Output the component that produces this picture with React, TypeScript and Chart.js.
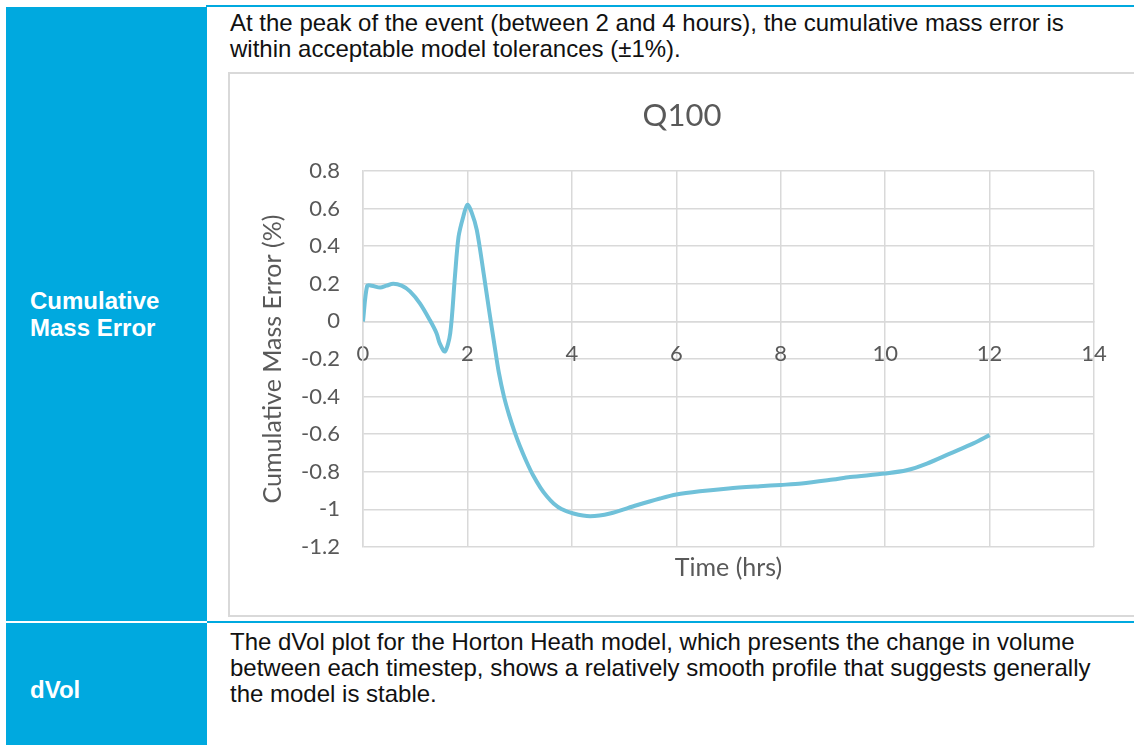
import React, { useEffect, useRef } from 'react';
import { Chart, registerables } from 'chart.js';

Chart.register(...registerables);

const chartTitle = 'Q100';
const xAxisTitle = 'Time (hrs)';
const yAxisTitle = 'Cumulative Mass Error (%)';

const timeHrs = [0, 0.08, 0.17, 0.33, 0.45, 0.58, 0.74, 0.9, 1.09, 1.28, 1.41, 1.47, 1.57, 1.67, 1.76, 1.83, 1.92, 2.0, 2.08, 2.18, 2.31, 2.42, 2.52, 2.6, 2.7, 2.8, 2.9, 3.0, 3.13, 3.26, 3.4, 3.52, 3.65, 3.8, 4.03, 4.35, 4.73, 5.24, 5.69, 6.0, 6.45, 7.0, 7.6, 8.0, 8.4, 9.0, 9.33, 10.0, 10.41, 10.8, 11.24, 11.69, 12.0];
const massErrorPct = [0, 0.19, 0.19, 0.18, 0.19, 0.2, 0.19, 0.16, 0.096, 0.007, -0.064, -0.117, -0.16, -0.064, 0.237, 0.45, 0.557, 0.62, 0.58, 0.486, 0.256, 0.05, -0.13, -0.27, -0.4, -0.5, -0.585, -0.66, -0.745, -0.82, -0.885, -0.93, -0.968, -0.998, -1.022, -1.036, -1.022, -0.978, -0.942, -0.921, -0.904, -0.889, -0.877, -0.87, -0.862, -0.841, -0.828, -0.809, -0.792, -0.756, -0.703, -0.649, -0.605];

const xMin = 0;
const xMax = 14;
const xStep = 2;
const yMin = -1.2;
const yMax = 0.8;
const yStep = 0.2;

const topParagraph = [
  'At the peak of the event (between 2 and 4 hours), the cumulative mass error is',
  'within acceptable model tolerances (±1%).',
];
const topLabel = ['Cumulative', 'Mass Error'];
const bottomParagraph = [
  'The dVol plot for the Horton Heath model, which presents the change in volume',
  'between each timestep, shows a relatively smooth profile that suggests generally',
  'the model is stable.',
];
const bottomLabel = ['dVol'];

const BLUE = '#00a9df';
const GRID = '#d9d9d9';
const AXIS_TEXT = '#595959';
const LINE = '#70c1d9';
const CHART_FONT = 'Lato, "Open Sans", sans-serif';
const DOC_FONT = '"Liberation Sans", Arial, sans-serif';

// Chart title centred over the whole chart frame (as in the spreadsheet chart)
const frameTitlePlugin = {
  id: 'frameTitle',
  afterDraw(chart: any) {
    const { ctx } = chart;
    ctx.save();
    ctx.font = `31px ${CHART_FONT}`;
    ctx.fillStyle = AXIS_TEXT;
    ctx.textAlign = 'center';
    ctx.textBaseline = 'middle';
    ctx.fillText(chartTitle, 453, 43);
    ctx.restore();
  },
};

function Q100Chart() {
  const ref = useRef<HTMLCanvasElement | null>(null);
  useEffect(() => {
    if (!ref.current) return;
    const points = timeHrs.map((t, i) => ({ x: t, y: massErrorPct[i] }));
    const chart = new Chart(ref.current, {
      type: 'line',
      data: {
        datasets: [
          {
            label: chartTitle,
            data: points,
            xAxisID: 'x',
            yAxisID: 'y',
            borderColor: LINE,
            backgroundColor: LINE,
            borderWidth: 4,
            pointRadius: 0,
            tension: 0.3,
            fill: false,
          },
        ],
      },
      plugins: [frameTitlePlugin],
      options: {
        animation: false,
        responsive: false,
        maintainAspectRatio: false,
        devicePixelRatio: 1,
        layout: { padding: { left: 0, right: 45, top: 98, bottom: 0 } },
        plugins: {
          legend: { display: false },
          tooltip: { enabled: false },
          title: { display: false },
        },
        scales: {
          x: {
            type: 'linear',
            axis: 'x',
            position: { y: 0 } as any,
            min: xMin,
            max: xMax,
            grid: { color: GRID, lineWidth: 1.5, drawTicks: false },
            border: { color: GRID, width: 1.5 },
            ticks: {
              stepSize: xStep,
              color: AXIS_TEXT,
              padding: 19,
              font: { family: CHART_FONT, size: 22 },
              callback: (v: any) => String(v),
            },
          },
          x2: {
            type: 'linear',
            axis: 'x',
            position: 'bottom',
            min: xMin,
            max: xMax,
            grid: { display: false },
            border: { display: false },
            ticks: { display: false },
            title: {
              display: true,
              text: xAxisTitle,
              color: AXIS_TEXT,
              font: { family: CHART_FONT, size: 25 },
              padding: { top: 0, bottom: 32 },
            },
            afterFit: (s: any) => {
              s.height = 68;
            },
          },
          y: {
            type: 'linear',
            position: 'left',
            min: yMin,
            max: yMax,
            grid: { color: GRID, lineWidth: 1.5, drawTicks: false },
            border: { color: GRID, width: 1.5 },
            ticks: {
              stepSize: yStep,
              color: AXIS_TEXT,
              padding: 23,
              font: { family: CHART_FONT, size: 22 },
              callback: (v: any) => String(Number(Number(v).toFixed(1))),
            },
            title: {
              display: true,
              text: yAxisTitle,
              color: AXIS_TEXT,
              font: { family: CHART_FONT, size: 25 },
              padding: { top: 29, bottom: 0 },
            },
            afterFit: (s: any) => {
              s.width = 134;
            },
          },
        },
      },
    });
    return () => chart.destroy();
  }, []);
  return (
    <canvas
      ref={ref}
      width={910}
      height={542}
      style={{ position: 'absolute', left: 229, top: 73, width: 910, height: 542 }}
    />
  );
}

export default function App() {
  const textLine: React.CSSProperties = { whiteSpace: 'nowrap' };
  return (
    <div
      style={{
        position: 'absolute',
        left: 0,
        top: 0,
        width: 1134,
        height: 745,
        overflow: 'hidden',
        background: '#ffffff',
      }}
    >
      <div style={{ position: 'absolute', left: 6, top: 7, width: 201, height: 738, background: BLUE }} />
      <div style={{ position: 'absolute', left: 6, top: 621, width: 201, height: 2, background: '#ffffff' }} />
      <div style={{ position: 'absolute', left: 206, top: 5, width: 928, height: 2, background: BLUE }} />
      <div style={{ position: 'absolute', left: 207, top: 621, width: 927, height: 2, background: BLUE }} />

      <div
        style={{
          position: 'absolute',
          left: 30,
          top: 287,
          font: `bold 24px/27px ${DOC_FONT}`,
          color: '#ffffff',
        }}
      >
        {topLabel.map((l, i) => (
          <div key={i} style={textLine}>{l}</div>
        ))}
      </div>
      <div
        style={{
          position: 'absolute',
          left: 30,
          top: 676,
          font: `bold 24px/27px ${DOC_FONT}`,
          color: '#ffffff',
        }}
      >
        {bottomLabel.map((l, i) => (
          <div key={i} style={textLine}>{l}</div>
        ))}
      </div>

      <div
        style={{
          position: 'absolute',
          left: 230,
          top: 10,
          font: `24px/26px ${DOC_FONT}`,
          color: '#111111',
        }}
      >
        {topParagraph.map((l, i) => (
          <div key={i} style={textLine}>{l}</div>
        ))}
      </div>
      <div
        style={{
          position: 'absolute',
          left: 230,
          top: 629,
          font: `24px/26px ${DOC_FONT}`,
          color: '#111111',
        }}
      >
        {bottomParagraph.map((l, i) => (
          <div key={i} style={textLine}>{l}</div>
        ))}
      </div>

      <div
        style={{
          position: 'absolute',
          left: 228,
          top: 72,
          width: 920,
          height: 545,
          boxSizing: 'border-box',
          border: `2px solid ${GRID}`,
          background: '#ffffff',
        }}
      />
      <Q100Chart />
    </div>
  );
}
